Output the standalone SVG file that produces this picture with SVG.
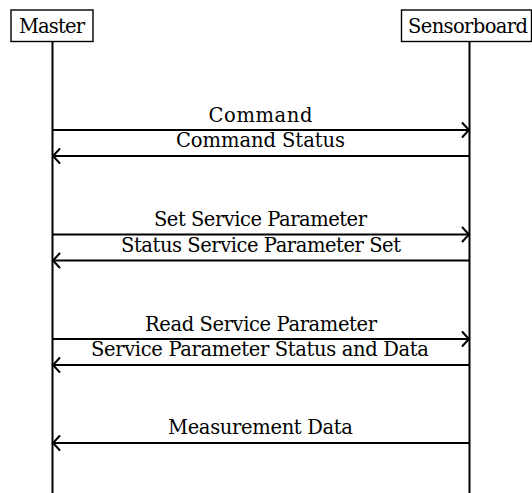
<svg xmlns="http://www.w3.org/2000/svg" width="532" height="493" viewBox="0 0 532 493">
  <style>
    .box { fill: #ffffff; stroke: #000000; stroke-width: 1.4; }
    .life { stroke: #000000; stroke-width: 2; fill: none; }
    .msg { stroke: #000000; stroke-width: 2; fill: none; marker-end: url(#to); }
    .lbl { font-family: "DejaVu Serif", "Liberation Serif", serif; font-size: 19.5px; fill: #000000; text-anchor: middle; }
  </style>
  <defs>
    <!-- curved open "to" arrowhead -->
    <marker id="to" markerUnits="userSpaceOnUse" markerWidth="16" markerHeight="18" viewBox="-10 -9 12 18" refX="0" refY="0" orient="auto">
      <path d="M -6.5,-7 Q -1.5,-1.5 0,0 Q -1.5,1.5 -6.5,7" fill="none" stroke="#000000" stroke-width="2" stroke-linecap="round"/>
    </marker>
  </defs>

  <rect width="532" height="493" fill="#ffffff"/>

  <g id="master">
    <line class="life" x1="52.5" y1="42" x2="52.5" y2="493"/>
    <rect class="box" x="11" y="10" width="82" height="31.5"/>
    <text class="lbl" x="52" y="33" textLength="66">Master</text>
  </g>

  <g id="sensorboard">
    <line class="life" x1="469.5" y1="42" x2="469.5" y2="493"/>
    <rect class="box" x="401.5" y="10" width="130" height="31.5"/>
    <text class="lbl" x="468" y="33" textLength="120">Sensorboard</text>
  </g>

  <g id="connectors">
    <line class="msg" x1="52.5" y1="130" x2="469" y2="130"/>
    <text class="lbl" x="260.5" y="122" textLength="104">Command</text>

    <line class="msg" x1="469.5" y1="156" x2="53" y2="156"/>
    <text class="lbl" x="260.5" y="147" textLength="169">Command Status</text>

    <line class="msg" x1="52.5" y1="234.5" x2="469" y2="234.5"/>
    <text class="lbl" x="260.5" y="226" textLength="213">Set Service Parameter</text>

    <line class="msg" x1="469.5" y1="260.5" x2="53" y2="260.5"/>
    <text class="lbl" x="261" y="252" textLength="280">Status Service Parameter Set</text>

    <line class="msg" x1="52.5" y1="339" x2="469" y2="339"/>
    <text class="lbl" x="261" y="331" textLength="232">Read Service Parameter</text>

    <line class="msg" x1="469.5" y1="365" x2="53" y2="365"/>
    <text class="lbl" x="260" y="356" textLength="338">Service Parameter Status and Data</text>

    <line class="msg" x1="469.5" y1="443" x2="53" y2="443"/>
    <text class="lbl" x="260.5" y="434" textLength="185">Measurement Data</text>
  </g>
</svg>
